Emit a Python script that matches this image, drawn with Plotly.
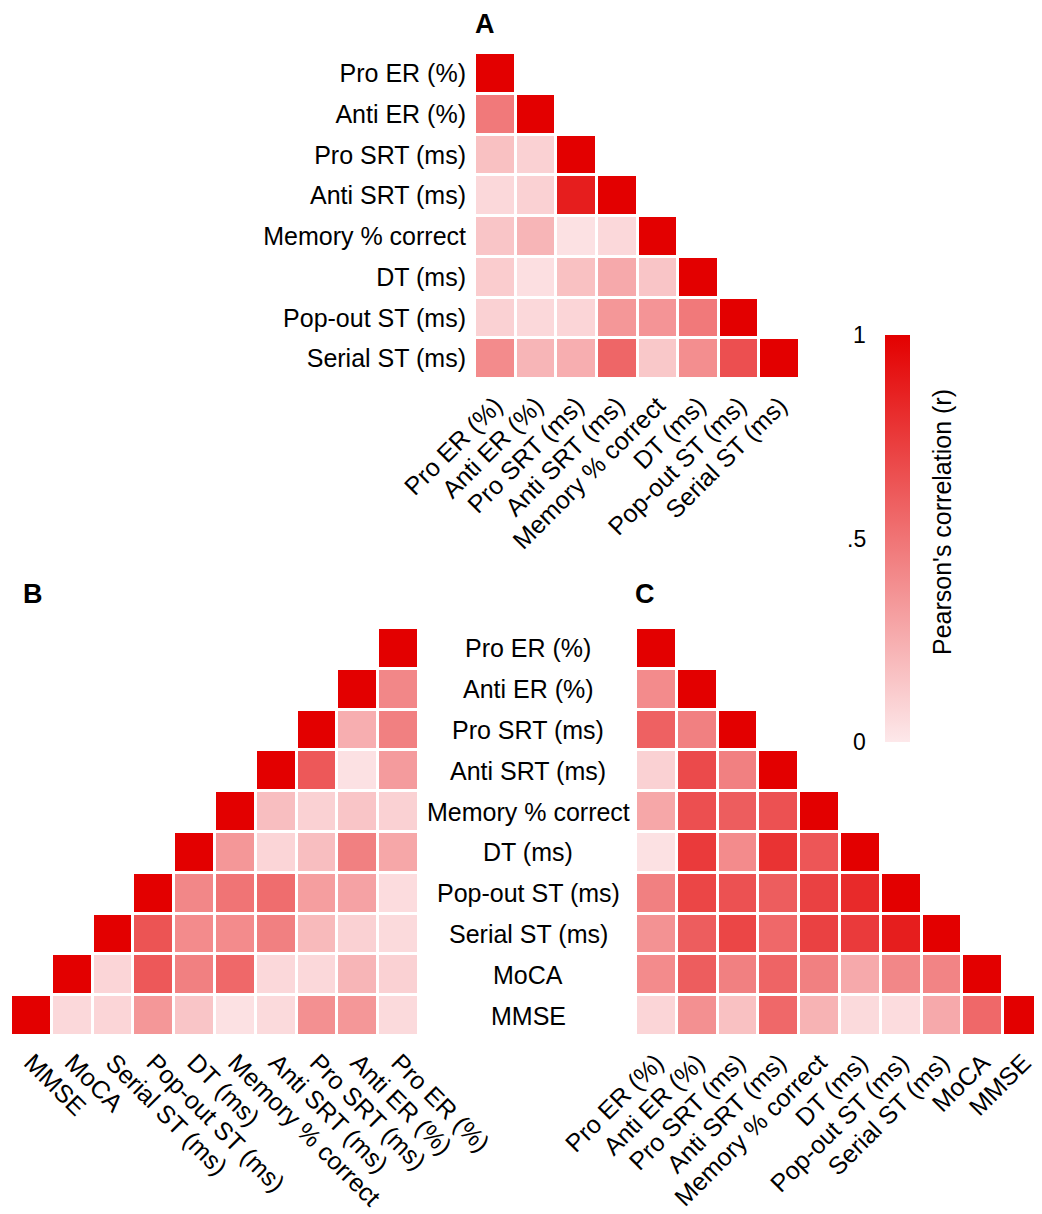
import plotly.graph_objects as go

# ---------------- data ----------------
vars_A = ["Pro ER (%)", "Anti ER (%)", "Pro SRT (ms)", "Anti SRT (ms)",
          "Memory % correct", "DT (ms)", "Pop-out ST (ms)", "Serial ST (ms)"]
vars_BC = vars_A + ["MoCA", "MMSE"]

# lower-triangle rows (off-diagonal values, diagonal = 1)
A_lower = [
    [],
    [0.48],
    [0.17, 0.10],
    [0.07, 0.10, 0.87],
    [0.15, 0.22, 0.03, 0.07],
    [0.12, 0.04, 0.17, 0.27, 0.15],
    [0.10, 0.07, 0.08, 0.35, 0.36, 0.48],
    [0.40, 0.22, 0.25, 0.56, 0.14, 0.39, 0.66],
]
B_lower = [
    [],
    [0.42],
    [0.45, 0.25],
    [0.33, 0.03, 0.62],
    [0.10, 0.15, 0.10, 0.18],
    [0.28, 0.45, 0.18, 0.08, 0.35],
    [0.05, 0.30, 0.32, 0.53, 0.50, 0.42],
    [0.06, 0.10, 0.20, 0.45, 0.40, 0.40, 0.64],
    [0.10, 0.22, 0.07, 0.07, 0.55, 0.45, 0.62, 0.08],
    [0.06, 0.35, 0.38, 0.06, 0.03, 0.15, 0.35, 0.08, 0.07],
]
C_lower = [
    [],
    [0.40],
    [0.58, 0.45],
    [0.10, 0.68, 0.45],
    [0.28, 0.66, 0.60, 0.65],
    [0.03, 0.75, 0.40, 0.78, 0.63],
    [0.45, 0.70, 0.65, 0.60, 0.72, 0.82],
    [0.37, 0.60, 0.70, 0.55, 0.72, 0.75, 0.87],
    [0.40, 0.60, 0.45, 0.57, 0.45, 0.27, 0.42, 0.43],
    [0.08, 0.38, 0.17, 0.55, 0.23, 0.06, 0.05, 0.27, 0.55],
]
cbar_ticks = [1, 0.5, 0]
cbar_ticktext = ["1", ".5", "0"]
panel_letters = ["A", "B", "C"]


def full(lower):
    n = len(lower)
    return [list(r) + [1.0] + [None] * (n - i - 1) for i, r in enumerate(lower)]


W, H = 1042, 1214
OFF = 8  # page body margin
def px(x):
    return (x - OFF) / W
def py(y):
    return 1 - (y - OFF) / H

FONT = "Liberation Sans, Arial, Helvetica, sans-serif"
colorscale = [[0, "#fde8ea"], [1, "#e30000"]]

fig = go.Figure()
common = dict(colorscale=colorscale, zmin=0, zmax=1, xgap=3, ygap=3,
              hoverinfo="skip")

nA, nB = len(vars_A), len(vars_BC)
fig.add_trace(go.Heatmap(z=full(A_lower), x=list(range(nA)), y=list(range(nA)),
                         xaxis="x", yaxis="y", showscale=True,
                         colorbar=dict(x=px(885), xanchor="left", thickness=25,
                                       len=(742 - 335) / H, lenmode="fraction",
                                       y=py((335 + 742) / 2), yanchor="middle",
                                       outlinewidth=0, showticklabels=False,
                                       ticks="", xpad=0, ypad=0),
                         **common))
fig.add_trace(go.Heatmap(z=full(B_lower), x=list(range(nB)), y=list(range(nB)),
                         xaxis="x2", yaxis="y2", showscale=False, **common))
fig.add_trace(go.Heatmap(z=full(C_lower), x=list(range(nB)), y=list(range(nB)),
                         xaxis="x3", yaxis="y3", showscale=False, **common))

tickfont = dict(family=FONT, size=25, color="black")
ax = dict(showgrid=False, zeroline=False, showline=False, ticks="",
          tickfont=tickfont, fixedrange=True, automargin=False)

cell = 40.8
c_right = 1042  # visible right edge of the window
fig.update_layout(
    width=W, height=H,
    margin=dict(l=0, r=0, t=0, b=0, autoexpand=False),
    paper_bgcolor="white", plot_bgcolor="white",
    showlegend=False,
    xaxis=dict(ax, domain=[px(475), px(800)], range=[-0.5, nA - 0.5],
               tickvals=list(range(nA)), ticktext=vars_A, tickangle=-45,
               anchor="y", ticklabelstandoff=6),
    yaxis=dict(ax, domain=[py(379), py(53)], range=[nA - 0.5, -0.5],
               tickvals=list(range(nA)), ticktext=vars_A, anchor="x",
               ticklabelstandoff=8),
    xaxis2=dict(ax, domain=[px(11), px(419)], range=[nB - 0.5, -0.5],
                tickvals=list(range(nB)), ticktext=vars_BC, tickangle=45,
                anchor="y2", ticklabelstandoff=6),
    yaxis2=dict(ax, domain=[py(1036), py(628)], range=[nB - 0.5, -0.5],
                showticklabels=False, anchor="x2"),
    xaxis3=dict(ax, domain=[px(636), px(c_right)],
                range=[-0.5, -0.5 + (c_right - 636) / cell],
                tickvals=list(range(nB)), ticktext=vars_BC, tickangle=-45,
                anchor="y3", ticklabelstandoff=6),
    yaxis3=dict(ax, domain=[py(1036), py(628)], range=[nB - 0.5, -0.5],
                showticklabels=False, anchor="x3"),
)

annots = []
# centered row labels between B and C
for i, lab in enumerate(vars_BC):
    annots.append(dict(text=lab, x=px(528), xref="paper", y=i, yref="y2",
                       xanchor="center", yanchor="middle", showarrow=False,
                       font=tickfont))
# panel letters
letter_font = dict(family=FONT, size=27, color="black")
annots.append(dict(text="<b>%s</b>" % panel_letters[0], x=px(485), y=1.0,
                   xref="paper", yref="paper", xanchor="center",
                   yanchor="top", showarrow=False, borderpad=0,
                   font=letter_font))
for letter, (lx, ly) in zip(panel_letters[1:], [(33, 594), (645, 594)]):
    annots.append(dict(text="<b>%s</b>" % letter, x=px(lx), y=py(ly),
                       xref="paper", yref="paper", xanchor="center",
                       yanchor="middle", showarrow=False,
                       font=letter_font))
# colorbar tick labels on the left
for v, t in zip(cbar_ticks, cbar_ticktext):
    yy = 742 - v * (742 - 335)
    annots.append(dict(text=t, x=px(868), y=py(yy), xref="paper", yref="paper",
                       xanchor="right", yanchor="middle", showarrow=False,
                       font=dict(family=FONT, size=23, color="black")))
# colorbar title
annots.append(dict(text="Pearson's correlation (r)", x=px(942), y=py(522),
                   xref="paper", yref="paper", xanchor="center",
                   yanchor="middle", textangle=-90, showarrow=False,
                   font=dict(family=FONT, size=25, color="black")))
fig.update_layout(annotations=annots)

fig.write_html("out.html")
